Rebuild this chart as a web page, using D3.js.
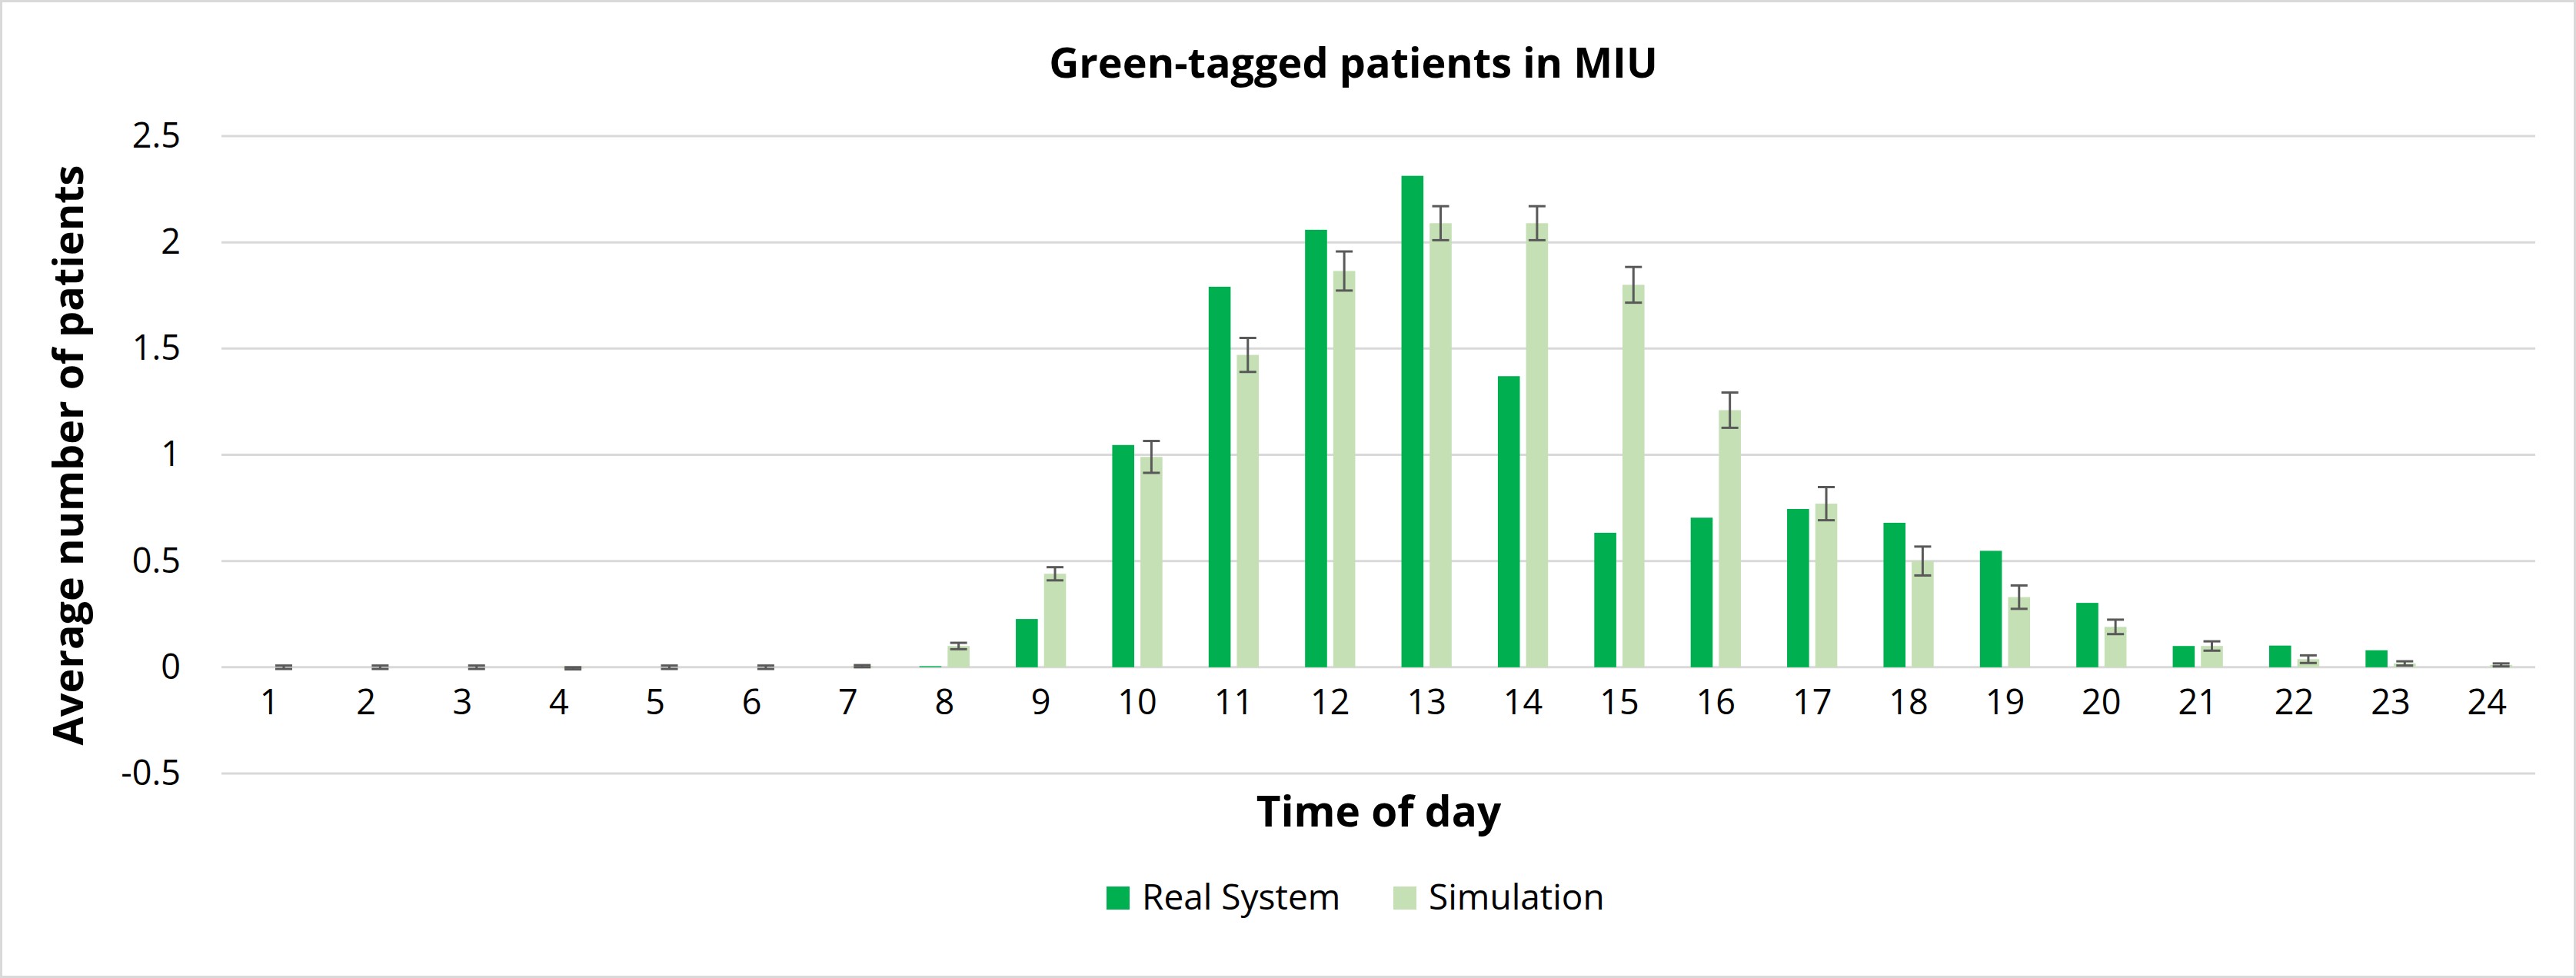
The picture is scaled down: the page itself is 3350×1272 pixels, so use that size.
<!DOCTYPE html>
<html>
<head>
<meta charset="utf-8">
<script src="https://cdn.jsdelivr.net/npm/d3@7"></script>
<style>
  body { margin: 0; background: #fff; }
  text { font-family: "Open Sans", Lato, sans-serif; fill: #000; }
</style>
</head>
<body>
<div id="chart"></div>
<script>
// hours of the day
var hours = ["1","2","3","4","5","6","7","8","9","10","11","12","13","14","15","16","17","18","19","20","21","22","23","24"];
// average number of green-tagged patients, observed
var realSystem = [0, 0, 0, 0, 0, 0, 0, 0.005, 0.227, 1.046, 1.791, 2.059, 2.313, 1.370, 0.633, 0.704, 0.745, 0.680, 0.548, 0.303, 0.100, 0.102, 0.080, 0];
// simulated averages and their error bar half-widths
var simulation = [0, 0, 0, -0.005, 0, 0, 0.005, 0.10, 0.44, 0.99, 1.47, 1.865, 2.09, 2.09, 1.80, 1.21, 0.77, 0.50, 0.33, 0.19, 0.10, 0.038, 0.018, 0.011];
var simError = [0.008, 0.008, 0.008, 0.005, 0.008, 0.008, 0.005, 0.015, 0.031, 0.075, 0.08, 0.092, 0.08, 0.08, 0.084, 0.083, 0.078, 0.068, 0.055, 0.034, 0.022, 0.018, 0.010, 0.007];
var yTicks = [-0.5, 0, 0.5, 1, 1.5, 2, 2.5];
var seriesNames = ["Real System", "Simulation"];
var colors = ["#00B050", "#C5E0B4"];

var W = 3350, H = 1272;
var margin = { top: 177, right: 53, bottom: 266, left: 288 };
var width = W - margin.left - margin.right,
    height = H - margin.top - margin.bottom;

var svg = d3.select("#chart").append("svg")
  .attr("width", W).attr("height", H);

// outer chart border
svg.append("rect")
  .attr("x", 1.5).attr("y", 1.5)
  .attr("width", W - 3).attr("height", H - 3)
  .attr("fill", "#fff").attr("stroke", "#D9D9D9").attr("stroke-width", 3);

var g = svg.append("g").attr("transform", `translate(${margin.left}, ${margin.top})`);

var x = d3.scaleBand().domain(hours).range([0, width]).padding(0);
var xSub = d3.scaleBand().domain(seriesNames).range([0, x.bandwidth()])
  .paddingInner(0.22).paddingOuter(0.82);
var y = d3.scaleLinear().domain([-0.5, 2.5]).range([height, 0]);

// gridlines
g.append("g").selectAll("line").data(yTicks).join("line")
  .attr("x1", 0).attr("x2", width)
  .attr("y1", d => y(d)).attr("y2", d => y(d))
  .attr("stroke", "#D9D9D9").attr("stroke-width", 3);

// y axis labels
var yAxis = d3.axisLeft(y).tickValues(yTicks).tickSize(0).tickPadding(53)
  .tickFormat(d => d3.format("")(d).replace("−", "-"));
g.append("g").call(yAxis)
  .call(s => s.select(".domain").remove())
  .selectAll("text")
  .attr("font-size", 45).attr("font-family", "Open Sans").attr("fill", "#000");

// bars
var rows = hours.map((h, i) => ({ h: h, real: realSystem[i], sim: simulation[i], err: simError[i] }));

g.append("g").selectAll("rect").data(rows).join("rect")
  .attr("x", d => x(d.h) + xSub("Real System"))
  .attr("width", xSub.bandwidth())
  .attr("y", d => y(Math.max(0, d.real)))
  .attr("height", d => Math.abs(y(d.real) - y(0)))
  .attr("fill", colors[0]);

g.append("g").selectAll("rect").data(rows).join("rect")
  .attr("x", d => x(d.h) + xSub("Simulation"))
  .attr("width", xSub.bandwidth())
  .attr("y", d => y(Math.max(0, d.sim)))
  .attr("height", d => Math.abs(y(d.sim) - y(0)))
  .attr("fill", colors[1]);

// error bars
var eb = g.append("g").attr("stroke", "#595959").attr("stroke-width", 3)
  .selectAll("g").data(rows).join("g")
  .attr("transform", d => `translate(${x(d.h) + xSub("Simulation") + xSub.bandwidth() / 2}, 0)`);
eb.append("line")
  .attr("y1", d => y(d.sim + d.err)).attr("y2", d => y(d.sim - d.err));
eb.append("line").attr("x1", -11).attr("x2", 11)
  .attr("y1", d => y(d.sim + d.err)).attr("y2", d => y(d.sim + d.err));
eb.append("line").attr("x1", -11).attr("x2", 11)
  .attr("y1", d => y(d.sim - d.err)).attr("y2", d => y(d.sim - d.err));

// x axis labels
var xAxis = d3.axisBottom(x).tickSize(0).tickPadding(0);
g.append("g").attr("transform", `translate(0, ${y(0) + 45})`).call(xAxis)
  .call(s => s.select(".domain").remove())
  .selectAll("text")
  .attr("dy", "0.35em")
  .attr("font-size", 45).attr("font-family", "Open Sans").attr("fill", "#000");

// titles
svg.append("text")
  .attr("x", 1760).attr("y", 101)
  .attr("text-anchor", "middle")
  .attr("font-size", 54).attr("font-weight", "bold")
  .text("Green-tagged patients in MIU");

svg.append("text")
  .attr("x", 1793).attr("y", 1075)
  .attr("text-anchor", "middle")
  .attr("font-size", 55).attr("font-weight", "bold")
  .text("Time of day");

svg.append("text")
  .attr("transform", "translate(108, 592) rotate(-90)")
  .attr("text-anchor", "middle")
  .attr("font-size", 54).attr("font-weight", "bold")
  .text("Average number of patients");

// legend
var legend = svg.append("g").selectAll("g").data(seriesNames).join("g")
  .attr("transform", (d, i) => `translate(${[1439, 1812][i]}, 1153)`);
legend.append("rect").attr("width", 30).attr("height", 30)
  .attr("fill", (d, i) => colors[i]);
legend.append("text").attr("x", 46).attr("y", 30)
  .attr("font-size", 46)
  .text(d => d);
</script>
</body>
</html>
